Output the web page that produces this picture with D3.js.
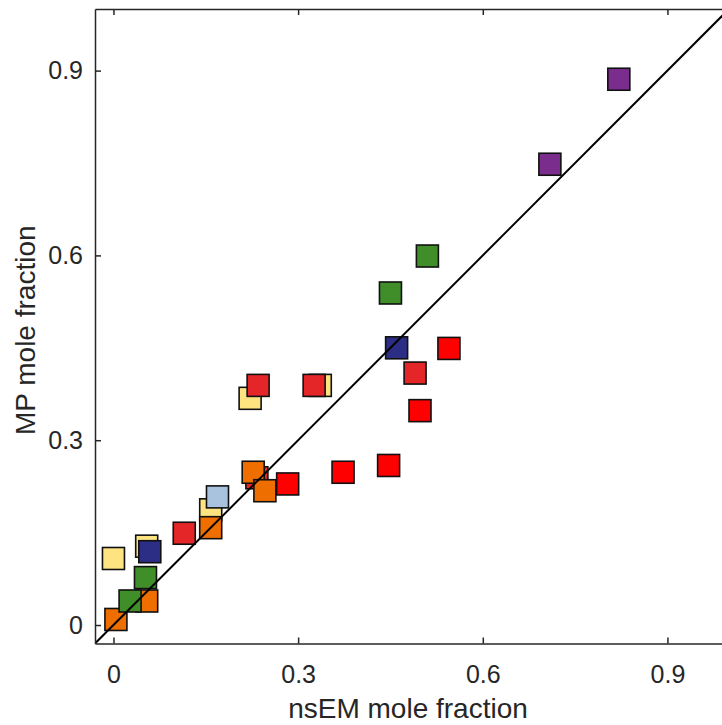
<!DOCTYPE html>
<html>
<head>
<meta charset="utf-8">
<script src="https://cdn.jsdelivr.net/npm/d3@7"></script>
<style>
  body { margin: 0; background: #fff; }
  svg { display: block; font-family: "Liberation Sans", Arial, sans-serif; }
  .axis path, .axis line { stroke: #262626; stroke-width: 1.5; }
  .axis text { fill: #262626; font-size: 25px; }
</style>
</head>
<body>
<div id="chart"></div>
<script>
// axis setup
var xDomain = [-0.03, 1];
var yDomain = [-0.03, 1];
var tickValues = [0, 0.3, 0.6, 0.9];
var tickLabels = ["0", "0.3", "0.6", "0.9"];
var identityLine = [-0.03, 1];

// one array per colour group, [nsEM, MP]
var yellowPts   = [[0.0, 0.108], [0.054, 0.128], [0.158, 0.187], [0.222, 0.368], [0.336, 0.389]];
var crimsonPts  = [[0.115, 0.149], [0.233, 0.239], [0.235, 0.389], [0.326, 0.389], [0.490, 0.409]];
var redPts      = [[0.283, 0.229], [0.373, 0.248], [0.447, 0.259], [0.498, 0.348], [0.545, 0.449]];
var orangePts   = [[0.004, 0.009], [0.054, 0.039], [0.158, 0.158], [0.227, 0.248], [0.246, 0.218]];
var greenPts    = [[0.027, 0.039], [0.052, 0.077], [0.450, 0.539], [0.510, 0.599]];
var navyPts     = [[0.059, 0.119], [0.460, 0.450]];
var lightbluePts = [[0.169, 0.208]];
var purplePts   = [[0.709, 0.748], [0.821, 0.886]];

// draw order matters, later groups sit on top
var groups = [
    {color: "#fde480", pts: yellowPts},
    {color: "#e42628", pts: crimsonPts},
    {color: "#ff0000", pts: redPts},
    {color: "#ef6e00", pts: orangePts},
    {color: "#3f8e2a", pts: greenPts},
    {color: "#2b2e84", pts: navyPts},
    {color: "#a9c3df", pts: lightbluePts},
    {color: "#7b2d8e", pts: purplePts}
];

var W = 722, H = 725;
var margin = {left: 95, top: 9};
var plotW = 634, plotH = 634.5;
var sq = 22;

var svg = d3.select("#chart").append("svg")
    .attr("width", W)
    .attr("height", H);

var x = d3.scaleLinear().domain(xDomain).range([0, plotW]);
var y = d3.scaleLinear().domain(yDomain).range([plotH, 0]);

var g = svg.append("g")
    .attr("transform", "translate(" + margin.left + "," + margin.top + ")");

g.append("clipPath").attr("id", "clip")
  .append("rect").attr("width", plotW).attr("height", plotH);

var fmt = function(d, i) { return tickLabels[i]; };

// squares
var layer = g.append("g").attr("clip-path", "url(#clip)");
groups.forEach(function(grp) {
    layer.append("g").selectAll("rect")
        .data(grp.pts)
        .enter().append("rect")
        .attr("x", function(d) { return x(d[0]) - sq / 2; })
        .attr("y", function(d) { return y(d[1]) - sq / 2; })
        .attr("width", sq)
        .attr("height", sq)
        .attr("fill", grp.color)
        .attr("stroke", "#111")
        .attr("stroke-width", 1.6);
});

// 1:1 line
var line = d3.line()
    .x(function(d) { return x(d); })
    .y(function(d) { return y(d); });
layer.append("path")
    .datum(identityLine)
    .attr("d", line)
    .attr("fill", "none")
    .attr("stroke", "#000")
    .attr("stroke-width", 2);

// axes, ticks point inwards
g.append("g").attr("class", "axis")
    .attr("transform", "translate(0," + plotH + ")")
    .call(d3.axisBottom(x).tickValues(tickValues).tickFormat(fmt)
        .tickSizeInner(-6).tickSizeOuter(0).tickPadding(22));

g.append("g").attr("class", "axis")
    .call(d3.axisTop(x).tickValues(tickValues).tickFormat("")
        .tickSizeInner(-6).tickSizeOuter(0));

g.append("g").attr("class", "axis")
    .call(d3.axisLeft(y).tickValues(tickValues).tickFormat(fmt)
        .tickSizeInner(-6).tickSizeOuter(0).tickPadding(12));

g.append("g").attr("class", "axis")
    .attr("transform", "translate(" + plotW + ",0)")
    .call(d3.axisRight(y).tickValues(tickValues).tickFormat("")
        .tickSizeInner(-6).tickSizeOuter(0));

// axis titles
svg.append("text")
    .attr("x", margin.left + plotW / 2 - 4)
    .attr("y", 718)
    .attr("text-anchor", "middle")
    .attr("fill", "#262626")
    .style("font-size", "28px")
    .text("nsEM mole fraction");

svg.append("text")
    .attr("transform", "translate(35," + (margin.top + plotH / 2 + 4) + ") rotate(-90)")
    .attr("text-anchor", "middle")
    .attr("fill", "#262626")
    .style("font-size", "28px")
    .text("MP mole fraction");
</script>
</body>
</html>
